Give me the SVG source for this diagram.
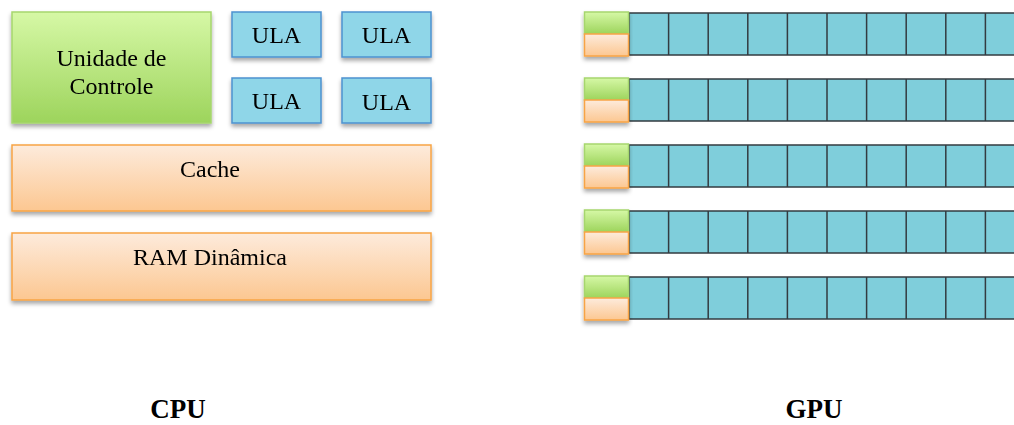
<svg xmlns="http://www.w3.org/2000/svg" width="1014" height="425" viewBox="0 0 1014 425">
  <defs>
    <linearGradient id="gGreen" x1="0" y1="0" x2="0" y2="1">
      <stop offset="0" stop-color="#d6f8a6"/>
      <stop offset="1" stop-color="#9dd45c"/>
    </linearGradient>
    <linearGradient id="gOrange" x1="0" y1="0" x2="0" y2="1">
      <stop offset="0" stop-color="#fdebdc"/>
      <stop offset="1" stop-color="#fcc791"/>
    </linearGradient>
    <filter id="shadow" x="-10%" y="-20%" width="120%" height="150%">
      <feDropShadow dx="0" dy="3" stdDeviation="2" flood-color="#000" flood-opacity="0.35"/>
    </filter>
    <!-- one strip of GPU cores -->
    <g id="coreRow">
      <rect x="629" y="0" width="400" height="42" fill="#7fcedb" stroke="#333b40" stroke-width="1.5"/>
      <path d="M668.6 0v42M708.2 0v42M747.8 0v42M787.4 0v42M827 0v42M866.6 0v42M906.2 0v42M945.8 0v42M985.4 0v42" stroke="#333b40" stroke-width="1.5"/>
      <g filter="url(#shadow)">
        <rect x="584.5" y="-1" width="44" height="22" fill="url(#gGreen)" stroke="#a6d66e" stroke-width="1.5"/>
        <rect x="584.5" y="21" width="44" height="22" fill="url(#gOrange)" stroke="#f8a445" stroke-width="1.5"/>
      </g>
    </g>
  </defs>
  <style>
    .lbl { font-family: "Liberation Serif", "Times New Roman", serif; font-size: 24px; fill: #000; text-anchor: middle; }
    .title { font-family: "Liberation Serif", "Times New Roman", serif; font-size: 27px; font-weight: bold; fill: #000; text-anchor: middle; }
    .ula { fill: #8fd6e8; stroke: #4d92d0; stroke-width: 1.5; }
    .ctrl { fill: url(#gGreen); stroke: #a6d66e; stroke-width: 1.5; }
    .mem { fill: url(#gOrange); stroke: #f8a445; stroke-width: 1.5; }
  </style>

  <rect width="1014" height="425" fill="#ffffff"/>

  <!-- CPU -->
  <g id="unidade-controle" filter="url(#shadow)">
    <rect class="ctrl" x="12" y="12" width="199" height="111"/>
    <text class="lbl" x="111.5" y="66">Unidade de</text>
    <text class="lbl" x="111.5" y="94">Controle</text>
  </g>
  <g id="ula-1" filter="url(#shadow)">
    <rect class="ula" x="232" y="12" width="89" height="45"/>
    <text class="lbl" x="276.5" y="43">ULA</text>
  </g>
  <g id="ula-2" filter="url(#shadow)">
    <rect class="ula" x="342" y="12" width="89" height="45"/>
    <text class="lbl" x="386.5" y="43">ULA</text>
  </g>
  <g id="ula-3" filter="url(#shadow)">
    <rect class="ula" x="232" y="78" width="89" height="45"/>
    <text class="lbl" x="276.5" y="109">ULA</text>
  </g>
  <g id="ula-4" filter="url(#shadow)">
    <rect class="ula" x="342" y="78" width="89" height="45"/>
    <text class="lbl" x="386.5" y="110">ULA</text>
  </g>
  <g id="cache" filter="url(#shadow)">
    <rect class="mem" x="12" y="145" width="419" height="66"/>
    <text class="lbl" x="210" y="177">Cache</text>
  </g>
  <g id="ram" filter="url(#shadow)">
    <rect class="mem" x="12" y="233" width="419" height="67"/>
    <text class="lbl" x="210" y="265">RAM Dinâmica</text>
  </g>

  <!-- GPU: five strips -->
  <g id="gpu-row-1"><use href="#coreRow" y="13"/></g>
  <g id="gpu-row-2"><use href="#coreRow" y="79"/></g>
  <g id="gpu-row-3"><use href="#coreRow" y="145"/></g>
  <g id="gpu-row-4"><use href="#coreRow" y="211"/></g>
  <g id="gpu-row-5"><use href="#coreRow" y="277"/></g>

  <g id="connectors"/>

  <text id="cpu-label" class="title" x="178" y="418">CPU</text>
  <text id="gpu-label" class="title" x="814" y="418">GPU</text>
</svg>
